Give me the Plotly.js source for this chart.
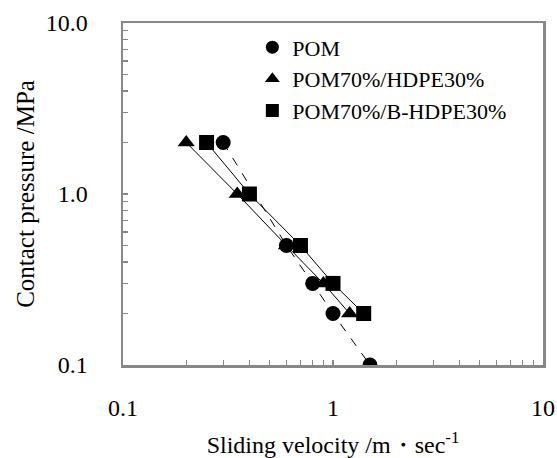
<!DOCTYPE html>
<html>
<head>
<meta charset="utf-8">
<script src="https://cdn.plot.ly/plotly-3.0.1.min.js"></script>
<style>html,body{margin:0;padding:0;background:#fff;}#chart{width:557px;height:458px;}</style>
</head>
<body>
<div id="chart"></div>
<script>
// Data
const seriesNames = ["POM", "POM70%/HDPE30%", "POM70%/B-HDPE30%"];
const pomVelocity = [0.3, 0.6, 0.8, 1.0, 1.5];
const pomPressure = [2, 0.5, 0.3, 0.2, 0.1];
const hdpeVelocity = [0.2, 0.35, 0.6, 0.9, 1.2];
const hdpePressure = [2, 1, 0.5, 0.3, 0.2];
const bhdpeVelocity = [0.25, 0.4, 0.7, 1.0, 1.4];
const bhdpePressure = [2, 1, 0.5, 0.3, 0.2];
const xTickVals = [0.1, 0.2, 0.3, 0.4, 0.5, 0.6, 0.7, 0.8, 0.9, 1, 2, 3, 4, 5, 6, 7, 8, 9, 10];
const xTickText = ["0.1", "", "", "", "", "", "", "", "", "1", "", "", "", "", "", "", "", "", "10"];
const yTickVals = [0.1, 0.2, 0.3, 0.4, 0.5, 0.6, 0.7, 0.8, 0.9, 1, 2, 3, 4, 5, 6, 7, 8, 9, 10];
const yTickText = ["0.1", "", "", "", "", "", "", "", "", "1.0", "", "", "", "", "", "", "", "", "10.0"];

const FONT = "Liberation Serif";
const mk = {color: "#000", size: 15, line: {width: 0}};

const data = [
  {x: hdpeVelocity, y: hdpePressure, mode: "lines+markers", showlegend: false,
   line: {color: "#000", width: 1}, marker: Object.assign({symbol: "triangle-up"}, mk)},
  {x: bhdpeVelocity, y: bhdpePressure, mode: "lines+markers", showlegend: false,
   line: {color: "#000", width: 1}, marker: Object.assign({symbol: "square"}, mk)},
  {x: pomVelocity, y: pomPressure, mode: "lines+markers", showlegend: false,
   line: {color: "#000", width: 1, dash: "dash"}, marker: Object.assign({symbol: "circle"}, mk)},
  // legend entries (marker only)
  {x: [null], y: [null], mode: "markers", name: seriesNames[0], marker: Object.assign({}, mk, {symbol: "circle", size: 13})},
  {x: [null], y: [null], mode: "markers", name: seriesNames[1], marker: Object.assign({}, mk, {symbol: "triangle-up", size: 13})},
  {x: [null], y: [null], mode: "markers", name: seriesNames[2], marker: Object.assign({}, mk, {symbol: "square", size: 13})}
];

const axisCommon = {
  type: "log",
  showgrid: false,
  zeroline: false,
  showline: true,
  linecolor: "#878787",
  linewidth: 2.5,
  mirror: true,
  ticks: "inside",
  ticklen: 5,
  tickwidth: 1.2,
  tickcolor: "#878787",
  tickmode: "array",
  tickfont: {family: FONT, size: 24, color: "#000"}
};

const layout = {
  width: 557, height: 458,
  margin: {l: 123, r: 14, t: 23, b: 93},
  paper_bgcolor: "#fff", plot_bgcolor: "#fff",
  font: {family: FONT, color: "#000"},
  xaxis: Object.assign({}, axisCommon, {
    range: [-1, 1], tickvals: xTickVals, ticktext: xTickText, ticklabelstandoff: 20,
    title: {text: "Sliding velocity /m\u30FBsec<sup>-1</sup>", font: {family: FONT, size: 24, color: "#000"}, standoff: 28}
  }),
  yaxis: Object.assign({}, axisCommon, {
    range: [-1, 1], tickvals: yTickVals, ticktext: yTickText, ticklabelstandoff: 28,
    title: {text: "Contact pressure /MPa", font: {family: FONT, size: 25, color: "#000"}, standoff: 4}
  }),
  legend: {
    x: 0.308, y: 0.99, xanchor: "left", yanchor: "top",
    bgcolor: "rgba(0,0,0,0)", borderwidth: 0,
    font: {family: FONT, size: 22, color: "#000"},
    itemwidth: 30, tracegroupgap: 0
  },
  showlegend: true
};

Plotly.newPlot("chart", data, layout, {displayModeBar: false, staticPlot: true});
</script>
</body>
</html>
